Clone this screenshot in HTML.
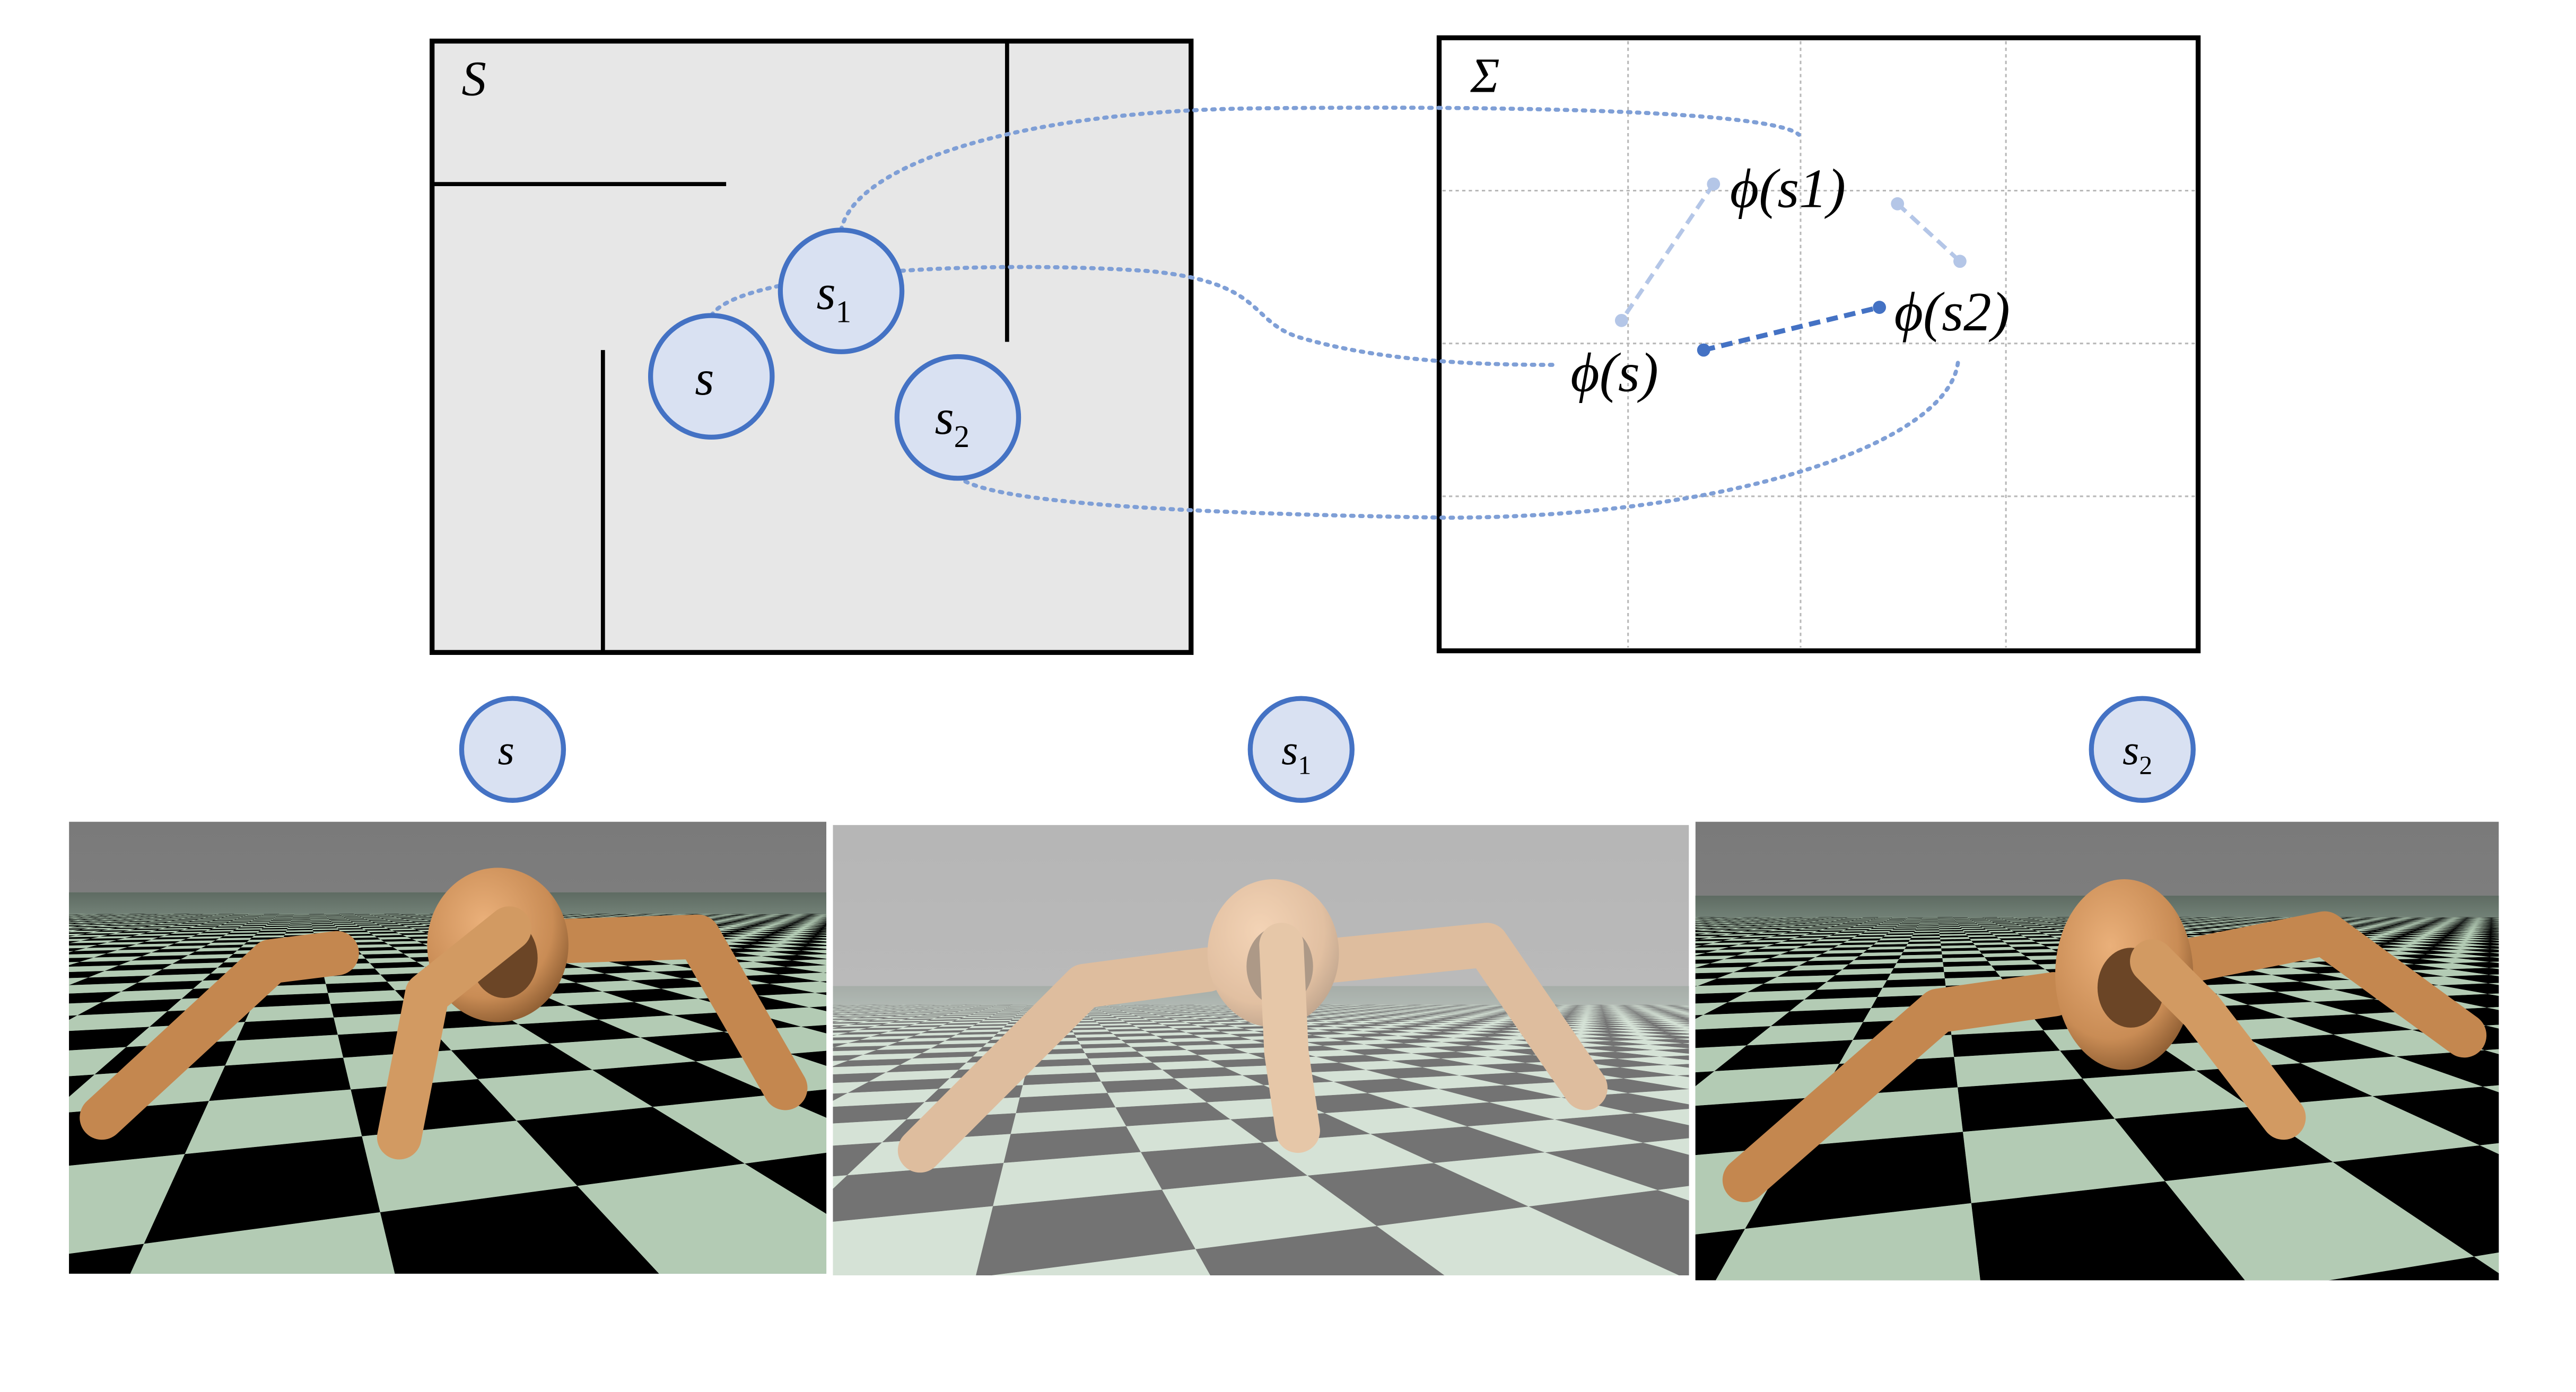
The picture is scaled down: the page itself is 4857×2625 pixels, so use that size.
<!DOCTYPE html>
<html><head><meta charset="utf-8"><style>
html,body{margin:0;padding:0;background:#fff;overflow:hidden;width:4857px;height:2625px;}
svg{display:block;}
text{font-family:"Liberation Serif","DejaVu Serif",serif;font-style:italic;}
</style></head><body>
<svg id="fig" width="4857" height="2625" viewBox="0 0 1568 847" preserveAspectRatio="none" xmlns="http://www.w3.org/2000/svg">
<defs>
<radialGradient id="bodyG" cx="0.4" cy="0.35" r="0.7"><stop offset="0" stop-color="#eab07a"/><stop offset="0.7" stop-color="#c98c55"/><stop offset="1" stop-color="#8a5a30"/></radialGradient>
<linearGradient id="sky1" x1="0" y1="0" x2="0" y2="1"><stop offset="0" stop-color="#7a7a7a"/><stop offset="1" stop-color="#8e8e8e"/></linearGradient>
<linearGradient id="haze" x1="0" y1="0" x2="0" y2="1"><stop offset="0" stop-color="#5e6b62"/><stop offset="1" stop-color="#5e6b62" stop-opacity="0"/></linearGradient>
<clipPath id="c1"><rect x="42" y="500" width="461" height="275"/></clipPath>
<clipPath id="c2"><rect x="507" y="502" width="521" height="274"/></clipPath>
<clipPath id="c3"><rect x="1032" y="500" width="489" height="279"/></clipPath>
</defs>

<g>
<rect x="263" y="25" width="462" height="372" fill="#e7e7e7" stroke="#000" stroke-width="3"/>
<line x1="263" y1="112" x2="442" y2="112" stroke="#000" stroke-width="2.5"/>
<line x1="613" y1="25" x2="613" y2="208" stroke="#000" stroke-width="2.5"/>
<line x1="367" y1="213" x2="367" y2="397" stroke="#000" stroke-width="2.5"/>
<text x="281" y="58" font-size="30">S</text>
</g>

<g>
<rect x="876" y="23" width="462" height="373" fill="#fff" stroke="#000" stroke-width="3"/>
<g stroke="#b8b8b8" stroke-width="1" stroke-dasharray="2,2">
<line x1="991" y1="25" x2="991" y2="394"/><line x1="1096" y1="25" x2="1096" y2="394"/><line x1="1221" y1="25" x2="1221" y2="394"/>
<line x1="878" y1="116" x2="1336" y2="116"/><line x1="878" y1="209" x2="1336" y2="209"/><line x1="878" y1="302" x2="1336" y2="302"/>
</g>
<text x="895" y="56" font-size="30" font-style="normal">Σ</text>
</g>

<g fill="none" stroke="#7f9fd6" stroke-width="2.5" stroke-dasharray="1.5,4" stroke-linecap="round">
<path d="M512,140 C520,100 620,68 760,66 C930,64 1080,68 1095,82"/>
<path d="M433,192 C450,165 600,158 700,165 C770,172 760,195 790,205 C840,220 900,222 945,222"/>
<path d="M583,290 C600,305 700,312 880,315 C1050,315 1190,270 1192,218"/>
</g>

<g>
<line x1="1043" y1="112" x2="987" y2="195" stroke="#b4c6e7" stroke-width="2.5" stroke-dasharray="7,4"/>
<line x1="1155" y1="124" x2="1193" y2="159" stroke="#b4c6e7" stroke-width="2.5" stroke-dasharray="7,4"/>
<circle cx="1043" cy="112" r="4" fill="#b4c6e7"/><circle cx="987" cy="195" r="4" fill="#b4c6e7"/>
<circle cx="1155" cy="124" r="4" fill="#b4c6e7"/><circle cx="1193" cy="159" r="4" fill="#b4c6e7"/>
<line x1="1037" y1="213" x2="1144" y2="187" stroke="#4472c4" stroke-width="3" stroke-dasharray="7,4"/>
<circle cx="1037" cy="213" r="4" fill="#4472c4"/><circle cx="1144" cy="187" r="4" fill="#4472c4"/>
<text x="1053" y="126" font-size="34" font-style="normal">ϕ(<tspan font-style="italic">s</tspan>1)</text>
<text x="1153" y="201" font-size="34" font-style="normal">ϕ(<tspan font-style="italic">s</tspan>2)</text>
<text x="956" y="238" font-size="34" font-style="normal">ϕ(<tspan font-style="italic">s</tspan>)</text>
</g>

<g fill="#d9e1f2" stroke="#4472c4" stroke-width="3">
<circle cx="433" cy="229" r="37"/>
<circle cx="512" cy="177" r="37"/>
<circle cx="583" cy="254" r="37"/>
<circle cx="312" cy="456" r="31"/>
<circle cx="792" cy="456" r="31"/>
<circle cx="1304" cy="456" r="31"/>
</g>
<g font-size="30" fill="#000">
<text x="423" y="240">s</text>
<text x="497" y="188">s<tspan font-size="19" dy="8" font-style="normal">1</tspan></text>
<text x="569" y="264">s<tspan font-size="19" dy="8" font-style="normal">2</tspan></text>
<text font-size="26" x="303" y="465">s</text>
<text font-size="26" x="780" y="465">s<tspan font-size="16" dy="6" font-style="normal">1</tspan></text>
<text font-size="26" x="1292" y="465">s<tspan font-size="16" dy="6" font-style="normal">2</tspan></text>
</g>

<g id="panels"></g>
</svg>
<script>
const NS="http://www.w3.org/2000/svg";
const root=document.getElementById('panels');
function el(t,a,p){const e=document.createElementNS(NS,t);for(const k in a)e.setAttribute(k,a[k]);(p||root).appendChild(e);return e;}
function panel(name,clip,x0,y0,w,h,hor,cx,f,H,ang,off,ant,fade){
  const g=el('g',{'clip-path':'url(#'+clip+')'});
  
  
  el('rect',{x:x0,y:y0,width:w,height:h,fill:'url(#sky1)'},g);
  el('rect',{x:x0,y:hor,width:w,height:h,fill:'#7f8f84'},g);
  const c=Math.cos(ang),s=Math.sin(ang);
  const proj=(u,v)=>{const X=u*c-v*s+off[0],Z=u*s+v*c+off[1];return [X,Z];};
  let d1='',d2='';
  for(let v=-5;v<60;v++)for(let u=-40;u<40;u++){
    const pts=[proj(u,v),proj(u+1,v),proj(u+1,v+1),proj(u,v+1)];
    if(pts.some(p=>p[1]<0.4))continue;
    if(pts.every(p=>p[1]>45))continue;
    const sp=pts.map(p=>[(cx+f*p[0]/p[1]).toFixed(1),(hor+f*H/p[1]).toFixed(1)]);
    if(sp.every(q=>q[0]<x0-50)||sp.every(q=>q[0]>x0+w+50))continue;
    const d='M'+sp.map(q=>q.join(',')).join('L')+'Z';
    if(((u+v)%2+2)%2===0)d1+=d;else d2+=d;
  }
  el('path',{d:d1,fill:'#000'},g);
  el('path',{d:d2,fill:'#b3cbb4'},g);
  el('rect',{x:x0,y:hor,width:w,height:22,fill:'url(#haze)'},g);
  const a=el('g',{},g);
  
  
  ant.back.forEach(L=>el('polyline',{points:L,fill:'none',stroke:'#c4874f','stroke-width':ant.lw,'stroke-linecap':'round','stroke-linejoin':'round'},a));
  el('ellipse',{cx:ant.bx,cy:ant.by,rx:ant.rx,ry:ant.ry,fill:'url(#bodyG)'},a);
  el('ellipse',{cx:ant.bx+4,cy:ant.by+8,rx:ant.lw*0.75,ry:ant.lw*0.9,fill:'#6b4526'},a);
  ant.front.forEach(L=>el('polyline',{points:L,fill:'none',stroke:'#d29a62','stroke-width':ant.lw,'stroke-linecap':'round','stroke-linejoin':'round'},a));
  if(fade)el('rect',{x:x0,y:y0,width:w,height:h,fill:'#fff',opacity:0.45},g);
}
panel('ant-frame-s','c1',42,500,461,275,543,300,400,1.5,0.28,[0.3,0.2],
 {bx:303,by:575,rx:43,ry:47,lw:27,
  back:['205,580 165,585 62,680','330,573 425,570 478,662'],
  front:['310,565 260,605 243,692']},false);
panel('ant-frame-s1','c2',507,502,521,274,600,770,400,1.3,0.32,[0.6,0.4],
 {bx:775,by:580,rx:40,ry:45,lw:27,
  back:['735,590 660,600 560,700','805,585 905,575 965,662'],
  front:['780,575 783,640 790,688']},true);
panel('ant-frame-s2','c3',1032,500,489,279,545,1280,400,1.5,0.25,[0.1,0.3],
 {bx:1293,by:593,rx:42,ry:58,lw:27,
  back:['1250,605 1180,615 1062,718','1330,585 1415,568 1500,630'],
  front:['1310,585 1340,615 1390,680']},false);
</script>
</body></html>
